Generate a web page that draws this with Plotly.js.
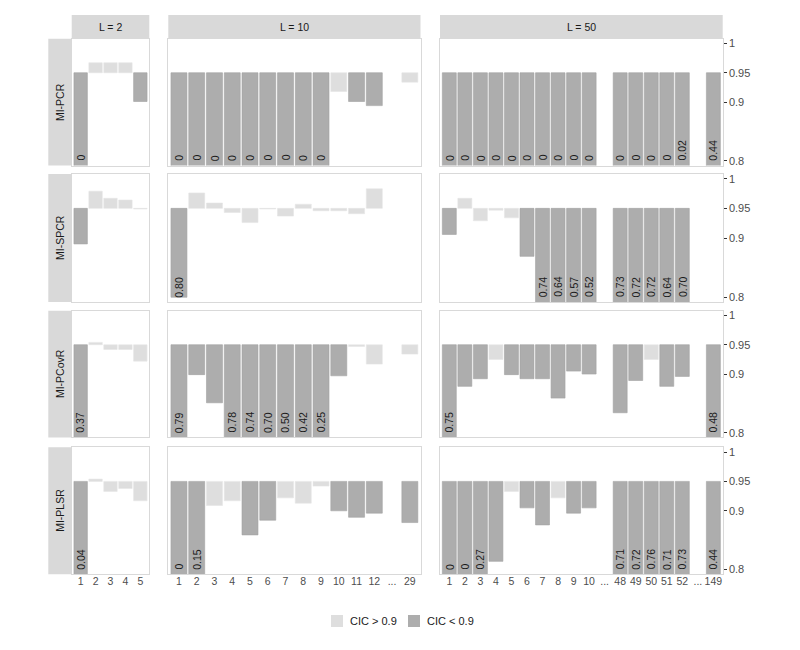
<!DOCTYPE html>
<html>
<head>
<meta charset="utf-8">
<script src="https://cdn.plot.ly/plotly-3.0.1.min.js"></script>
<style>
    html, body { margin: 0; padding: 0; background: #fff; }
    #chart { width: 800px; height: 650px; }
</style>
</head>
<body>
<div id="chart"></div>
<script>
// Facet labels
const methods = ["MI-PCR", "MI-SPCR", "MI-PCovR", "MI-PLSR"];
const levels = ["L = 2", "L = 10", "L = 50"];

// Tick labels per column ("..." slots are empty)
const ticksL2 = ["1", "2", "3", "4", "5"];
const ticksL10 = ["1", "2", "3", "4", "5", "6", "7", "8", "9", "10", "11", "12", "...", "29"];
const ticksL50 = ["1", "2", "3", "4", "5", "6", "7", "8", "9", "10", "...",
    "48", "49", "50", "51", "52", "...", "149"];

// Coverage per component. low = 1 means CIC < 0.9
const pcrL2 = [0, 0.967, 0.967, 0.967, 0.901];
const pcrL2Low = [1, 0, 0, 0, 1];
const pcrL10 = [0, 0, 0, 0, 0, 0, 0, 0, 0, 0.918, 0.901, 0.894, null, 0.934];
const pcrL10Low = [1, 1, 1, 1, 1, 1, 1, 1, 1, 0, 1, 1, 0, 0];
const pcrL50 = [0, 0, 0, 0, 0, 0, 0, 0, 0, 0, null, 0, 0, 0, 0, 0.02, null, 0.44];
const pcrL50Low = [1, 1, 1, 1, 1, 1, 1, 1, 1, 1, 0, 1, 1, 1, 1, 1, 0, 1];

const spcrL2 = [0.890, 0.979, 0.967, 0.964, 0.949];
const spcrL2Low = [1, 0, 0, 0, 0];
const spcrL10 = [0.80, 0.976, 0.959, 0.943, 0.926, 0.949, 0.937, 0.957, 0.946, 0.946, 0.941, 0.983, null, null];
const spcrL10Low = [1, 0, 0, 0, 0, 0, 0, 0, 0, 0, 0, 0, 0, 0];
const spcrL50 = [0.906, 0.967, 0.929, 0.947, 0.934, 0.869, 0.74, 0.64, 0.57, 0.52, null,
    0.73, 0.72, 0.72, 0.64, 0.70, null, null];
const spcrL50Low = [1, 0, 0, 0, 0, 1, 1, 1, 1, 1, 0, 1, 1, 1, 1, 1, 0, 0];

const pcovrL2 = [0.37, 0.954, 0.942, 0.942, 0.922];
const pcovrL2Low = [1, 0, 0, 0, 0];
const pcovrL10 = [0.79, 0.899, 0.851, 0.78, 0.74, 0.70, 0.50, 0.42, 0.25, 0.897, 0.947, 0.917, null, 0.934];
const pcovrL10Low = [1, 1, 1, 1, 1, 1, 1, 1, 1, 1, 0, 0, 0, 0];
const pcovrL50 = [0.75, 0.879, 0.892, 0.925, 0.899, 0.892, 0.892, 0.859, 0.905, 0.900, null,
    0.834, 0.889, 0.925, 0.879, 0.896, null, 0.48];
const pcovrL50Low = [1, 1, 1, 0, 1, 1, 1, 1, 1, 1, 0, 1, 1, 0, 1, 1, 0, 1];

const plsrL2 = [0.04, 0.954, 0.933, 0.938, 0.917];
const plsrL2Low = [1, 0, 0, 0, 0];
const plsrL10 = [0, 0.15, 0.909, 0.917, 0.859, 0.884, 0.922, 0.913, 0.942, 0.900, 0.889, 0.896, null, 0.880];
const plsrL10Low = [1, 1, 0, 0, 1, 1, 0, 0, 0, 1, 1, 1, 0, 1];
const plsrL50 = [0, 0, 0.27, 0.814, 0.933, 0.905, 0.876, 0.922, 0.896, 0.905, null,
    0.71, 0.72, 0.76, 0.71, 0.73, null, 0.44];
const plsrL50Low = [1, 1, 1, 1, 0, 1, 1, 0, 1, 1, 0, 1, 1, 1, 1, 1, 0, 1];

const yTicks = [0.8, 0.9, 0.95, 1];
const nominal = 0.95;

// Panel grid: rows x columns
const panels = [
    [[pcrL2, pcrL2Low], [pcrL10, pcrL10Low], [pcrL50, pcrL50Low]],
    [[spcrL2, spcrL2Low], [spcrL10, spcrL10Low], [spcrL50, spcrL50Low]],
    [[pcovrL2, pcovrL2Low], [pcovrL10, pcovrL10Low], [pcovrL50, pcovrL50Low]],
    [[plsrL2, plsrL2Low], [plsrL10, plsrL10Low], [plsrL50, plsrL50Low]],
];
const colTicks = [ticksL2, ticksL10, ticksL50];

// Layout in pixels, converted to paper fractions below
const W = 800, H = 650;
const colPx = [[71.7, 149.3], [168.3, 420.5], [440, 722.7]];
const rowPx = [[38.7, 165.5], [174, 302], [310.7, 437.4], [447.3, 574.3]];
const stripTop = 15;
const rowStripX = [48.3, 71.7];
const px2x = p => p / W;
const px2y = p => 1 - p / H;

const LIGHT = "#dedede";
const DARK = "#adadad";
const FONT = "Liberation Sans, Arial, sans-serif";

const traces = [];
const annotations = [];
const shapes = [];
const layout = {
    width: W, height: H,
    margin: { l: 0, r: 0, t: 0, b: 0 },
    paper_bgcolor: "#fff",
    plot_bgcolor: "#fff",
    showlegend: false,
    barmode: "overlay",
    font: { family: FONT, size: 11, color: "#4d4d4d" },
};

panels.forEach((row, r) => {
    row.forEach(([vals, low], c) => {
        const k = r * 3 + c + 1;
        const xa = "x" + k, ya = "y" + k;
        const idx = vals.map((_, i) => i);

        // Bars hang from the nominal 0.95 level
        [[1, DARK, "#a2a2a2"], [0, LIGHT, "#e6e6e6"]].forEach(([flag, fill, edge]) => {
            traces.push({
                type: "bar",
                xaxis: xa, yaxis: ya,
                x: idx,
                y: vals.map((v, i) => (v === null || low[i] !== flag) ? null : v - nominal),
                base: nominal,
                width: 0.9,
                marker: { color: fill, line: { color: edge, width: 0.6 } },
                hoverinfo: "skip",
            });
        });

        // Value labels for bars that drop below the panel
        vals.forEach((v, i) => {
            if (v === null || v > 0.8) return;
            annotations.push({
                xref: xa, yref: ya, x: i, y: 0.8,
                text: v === 0 ? "0" : v.toFixed(2),
                textangle: -90, xanchor: "center", yanchor: "bottom",
                yshift: -2, showarrow: false,
                font: { family: FONT, size: 10.5, color: "#1a1a1a" },
            });
        });

        const n = vals.length;
        layout["xaxis" + k] = {
            domain: [px2x(colPx[c][0]), px2x(colPx[c][1])],
            anchor: ya,
            range: [-0.6, n - 0.4],
            tickmode: "array",
            tickvals: idx,
            ticktext: colTicks[c],
            tickangle: 0,
            showticklabels: r === 3,
            ticks: "",
            ticklabelstandoff: -3,
            showgrid: false, zeroline: false,
            showline: true, mirror: true, linecolor: "#d9d9d9", linewidth: 1,
            tickfont: { size: 10.5, color: "#4d4d4d" },
            fixedrange: true,
        };
        layout["yaxis" + k] = {
            domain: [px2y(rowPx[r][1]), px2y(rowPx[r][0])],
            anchor: xa,
            range: [0.792, 1.008],
            side: "right",
            tickmode: "array",
            tickvals: yTicks,
            ticktext: yTicks.map(String),
            showticklabels: c === 2,
            ticks: c === 2 ? "outside" : "",
            ticklen: 3, tickwidth: 1, tickcolor: "#333",
            showgrid: false, zeroline: false,
            showline: true, mirror: true, linecolor: "#d9d9d9", linewidth: 1,
            tickfont: { size: 11, color: "#4d4d4d" },
            fixedrange: true,
        };
    });
});

// Column strips
levels.forEach((lab, c) => {
    shapes.push({
        type: "rect", xref: "paper", yref: "paper", layer: "below",
        x0: px2x(colPx[c][0]), x1: px2x(colPx[c][1]),
        y0: px2y(rowPx[0][0]), y1: px2y(stripTop),
        fillcolor: "#d9d9d9", line: { width: 0 },
    });
    annotations.push({
        xref: "paper", yref: "paper",
        x: px2x((colPx[c][0] + colPx[c][1]) / 2),
        y: px2y((stripTop + rowPx[0][0]) / 2),
        text: lab, showarrow: false, xanchor: "center", yanchor: "middle",
        font: { family: FONT, size: 10.5, color: "#1a1a1a" },
    });
});

// Row strips
methods.forEach((lab, r) => {
    shapes.push({
        type: "rect", xref: "paper", yref: "paper", layer: "below",
        x0: px2x(rowStripX[0]), x1: px2x(rowStripX[1]),
        y0: px2y(rowPx[r][1]), y1: px2y(rowPx[r][0]),
        fillcolor: "#d9d9d9", line: { width: 0 },
    });
    annotations.push({
        xref: "paper", yref: "paper",
        x: px2x((rowStripX[0] + rowStripX[1]) / 2),
        y: px2y((rowPx[r][0] + rowPx[r][1]) / 2),
        text: lab, textangle: -90, showarrow: false,
        xanchor: "center", yanchor: "middle",
        font: { family: FONT, size: 10.5, color: "#1a1a1a" },
    });
});

// Legend drawn by hand, ggplot style
const legendItems = [["CIC > 0.9", LIGHT, 331], ["CIC < 0.9", DARK, 408]];
legendItems.forEach(([lab, fill, x0]) => {
    shapes.push({
        type: "rect", xref: "paper", yref: "paper",
        x0: px2x(x0), x1: px2x(x0 + 12),
        y0: px2y(627), y1: px2y(615),
        fillcolor: fill, line: { width: 0 },
    });
    annotations.push({
        xref: "paper", yref: "paper",
        x: px2x(x0 + 17), y: px2y(621),
        text: lab, showarrow: false, xanchor: "left", yanchor: "middle",
        font: { family: FONT, size: 11, color: "#1a1a1a" },
    });
});

layout.annotations = annotations;
layout.shapes = shapes;

Plotly.newPlot("chart", traces, layout, { staticPlot: true, displayModeBar: false });
</script>
</body>
</html>
